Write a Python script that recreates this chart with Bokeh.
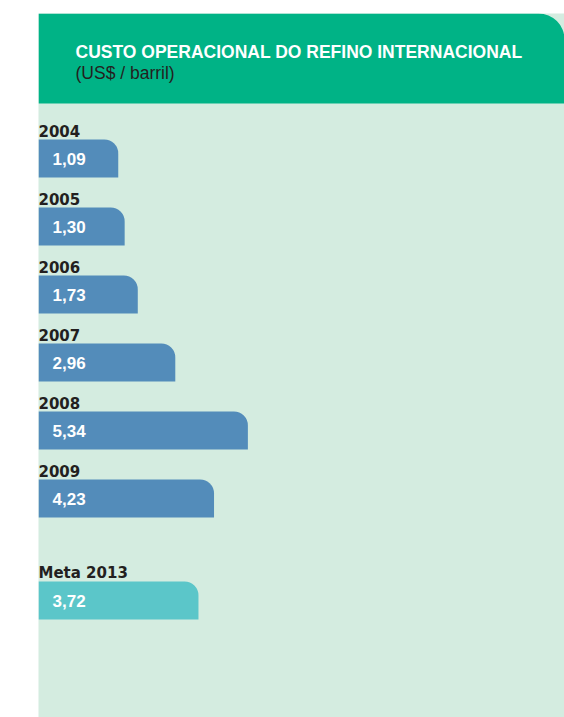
from bokeh.plotting import figure
from bokeh.models import Range1d, BoxAnnotation, ColumnDataSource
from bokeh.core.properties import value
from bokeh.embed import file_html
from bokeh.resources import INLINE

# ---- data ----
categories = ["2004", "2005", "2006", "2007", "2008", "2009", "Meta 2013"]
values = [1.09, 1.30, 1.73, 2.96, 5.34, 4.23, 3.72]
value_labels = ["1,09", "1,30", "1,73", "2,96", "5,34", "4,23", "3,72"]
title_text = "CUSTO OPERACIONAL DO REFINO INTERNACIONAL"
subtitle_text = "(US$ / barril)"

# ---- layout / style ----
W, H = 564, 717
LEFT_PAD, TOP_PAD = 38, 13
FRAME_W, FRAME_H = W - LEFT_PAD, H - TOP_PAD
ROW = 68.0          # pixels per row
PX_PER_UNIT = 30.5  # pixels per US$
X0 = -1.525         # bar base
Y_TOP = -145.0 / ROW

BLUE = "#538CBA"
TEAL = "#5BC6C9"
GREEN = "#00B386"
LIGHT = "#D4ECE0"
DARK = "#231F20"

positions = [i if c != "Meta 2013" else i + 0.5 for i, c in enumerate(categories)]
colors = [TEAL if c.startswith("Meta") else BLUE for c in categories]

src = ColumnDataSource(dict(y=positions, right=values, cat=categories,
                            lab=value_labels, color=colors))

p = figure(width=W, height=H, output_backend="svg", toolbar_location=None,
           x_range=Range1d(X0, X0 + FRAME_W / PX_PER_UNIT),
           y_range=Range1d(Y_TOP + FRAME_H / ROW, Y_TOP),
           min_border_left=LEFT_PAD, min_border_right=0,
           min_border_top=TOP_PAD, min_border_bottom=0)
p.axis.visible = False
p.grid.visible = False
p.outline_line_color = None
p.background_fill_color = LIGHT
p.border_fill_color = "white"

# header band
header = BoxAnnotation(bottom=Y_TOP + 90 / ROW, fill_color=GREEN, fill_alpha=1.0,
                       line_color=None, border_radius=dict(top_left=0, top_right=26,
                                                           bottom_right=0, bottom_left=0),
                       level="underlay")
p.add_layout(header)

tx = X0 + 37 / PX_PER_UNIT
p.text(x=[tx], y=[Y_TOP + 38.7 / ROW], text=[title_text], text_color="white",
       text_font=value("Liberation Sans"), text_font_style="bold",
       text_font_size="17.5px", text_baseline="middle")
p.text(x=[tx], y=[Y_TOP + 59 / ROW], text=[subtitle_text], text_color=DARK,
       text_font=value("Liberation Sans"), text_font_size="17.5px",
       text_baseline="middle")

BAR_H = 38 / ROW
p.hbar(y="y", left=X0, right="right", height=BAR_H, fill_color="color",
       line_color=None, source=src, border_radius=(0, 14, 0, 0))

# category labels above bars
src_lab = ColumnDataSource(dict(x=[X0] * len(categories),
                                y=[y - BAR_H / 2 for y in positions],
                                cat=categories))
p.text(x="x", y="y", text="cat", source=src_lab, text_baseline="middle",
       y_offset=-8.5, text_font=value("DejaVu Sans"), text_font_style="bold",
       text_font_size="15px", text_color=DARK)

# value labels inside bars
src_val = ColumnDataSource(dict(x=[X0] * len(categories), y=positions, lab=value_labels))
p.text(x="x", y="y", text="lab", source=src_val, text_baseline="middle",
       x_offset=14, y_offset=0.5, text_font=value("Liberation Sans"), text_font_style="bold",
       text_font_size="17px", text_color="white")

open("out.html", "w").write(file_html(p, INLINE))
